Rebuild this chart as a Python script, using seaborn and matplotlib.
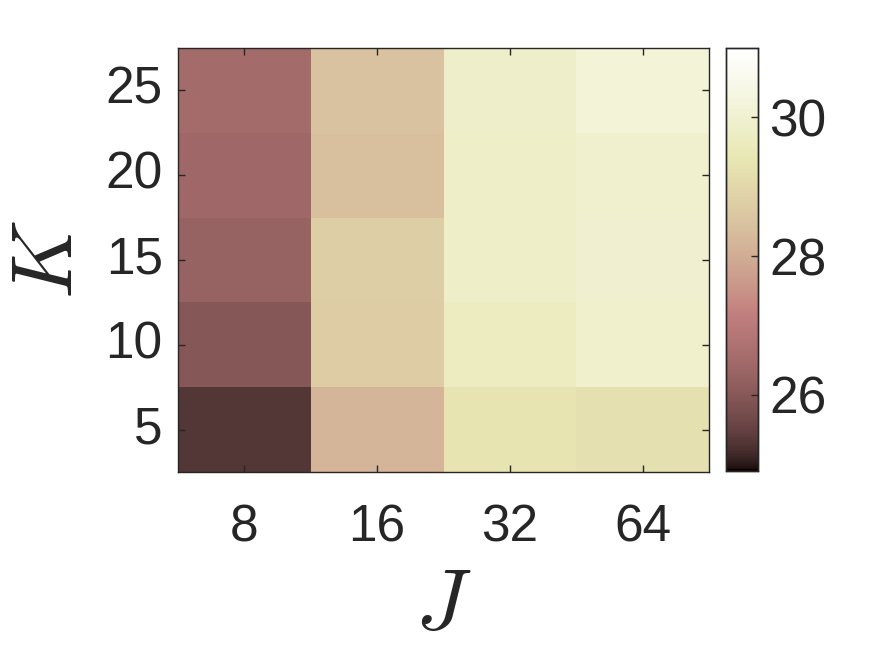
import numpy as np
import pandas as pd
import matplotlib
matplotlib.use("Agg")
import matplotlib.pyplot as plt
from matplotlib.colors import ListedColormap
import seaborn as sns

# values
J_vals = [8, 16, 32, 64]
K_vals = [25, 20, 15, 10, 5]
col_8 = [26.52, 26.41, 26.26, 25.98, 25.31]
col_16 = [28.47, 28.38, 28.74, 28.69, 28.18]
col_32 = [29.84, 29.83, 29.83, 29.68, 29.34]
col_64 = [30.14, 29.95, 29.96, 29.92, 29.23]
cbar_ticks = [26, 28, 30]

df = pd.DataFrame({8: col_8, 16: col_16, 32: col_32, 64: col_64}, index=K_vals)


# MATLAB-style "pink" colormap
def matlab_pink(m=256):
    t = np.linspace(0, 1, m)
    n = int(np.fix(3 / 8 * m))
    r = np.concatenate([np.arange(1, n + 1) / n, np.ones(m - n)])
    g = np.concatenate([np.zeros(n), np.arange(1, n + 1) / n, np.ones(m - 2 * n)])
    b = np.concatenate([np.zeros(2 * n), np.arange(1, m - 2 * n + 1) / (m - 2 * n)])
    hot = np.stack([r, g, b], axis=1)
    gray = np.stack([t, t, t], axis=1)
    return ListedColormap(np.sqrt((2 * gray + hot) / 3))


sns.set_theme(style="white")
plt.rcParams['font.family'] = ['Liberation Sans', 'DejaVu Sans']
plt.rcParams['mathtext.fontset'] = 'cm'
plt.rcParams['axes.axisbelow'] = False
txt = '#262626'

fig = plt.figure(figsize=(8.75, 6.56), dpi=100)
ax = fig.add_axes([178 / 875, 1 - 472 / 656, 531 / 875, 424 / 656])
cax = fig.add_axes([726 / 875, 1 - 471 / 656, 32 / 875, 423 / 656])

sns.heatmap(df, ax=ax, cbar_ax=cax, cmap=matlab_pink(), vmin=24.9, vmax=31.0,
            square=False, linewidths=0, cbar_kws={'ticks': cbar_ticks})
ax.set_axisbelow(False)
cax.set_axisbelow(False)

ax.tick_params(axis='both', direction='in', length=5, width=1, colors=txt,
               labelsize=37, top=True, right=True, bottom=True, left=True)
ax.tick_params(axis='x', pad=23)
ax.tick_params(axis='y', pad=11)
ax.set_yticklabels([str(k) for k in K_vals], rotation=0, color=txt)
ax.set_xticklabels([str(j) for j in J_vals], rotation=0, color=txt)
for s in ax.spines.values():
    s.set_visible(True)
    s.set_color(txt)
    s.set_linewidth(1)

ax.set_xlabel('$J$', fontsize=62, color=txt, labelpad=10)
ax.set_ylabel('$K$', fontsize=62, color=txt, labelpad=11)

cax.tick_params(direction='in', length=5, width=1, colors=txt, labelsize=37, pad=8)
for s in cax.spines.values():
    s.set_visible(True)
    s.set_color(txt)
    s.set_linewidth(1)

fig.savefig('out.png', dpi=100, facecolor='white')
